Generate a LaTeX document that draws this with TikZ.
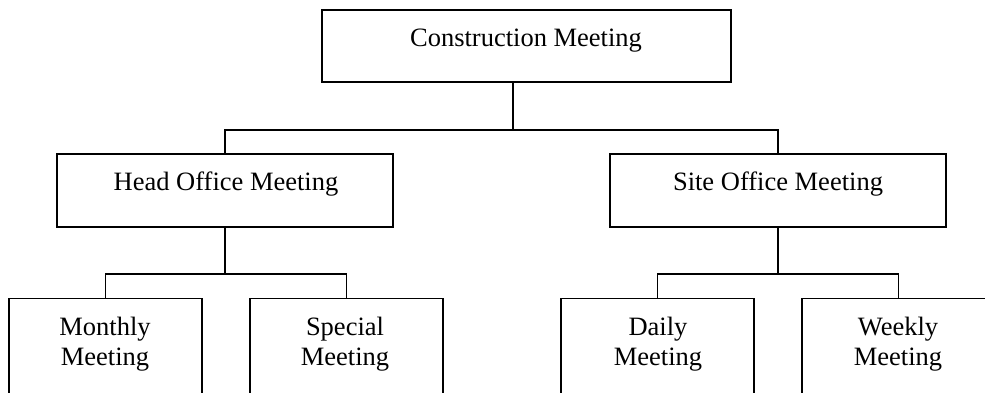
\documentclass[tikz,border=0pt]{standalone}
\usepackage{fontspec}
\setmainfont{Liberation Serif}
\begin{document}
\begin{tikzpicture}[x=1pt,y=-1pt,
  box/.style={draw, line width=1.3pt, rectangle, inner sep=0pt, minimum height=73pt},
  leaf/.style={box, minimum width=193pt, minimum height=130pt, anchor=north},
  lbl/.style={font=\fontsize{26.5}{30}\selectfont, inner sep=0pt, anchor=base, align=center},
  wire/.style={line width=1.3pt}]
\clip (0,0) rectangle (985,392);
\fill[white] (0,0) rectangle (985,392);

% boxes
\node[box, minimum width=409pt, minimum height=72pt] (cm) at (526.5,46) {};
\node[box, minimum width=336pt] (ho) at (225,190.5) {};
\node[box, minimum width=336pt] (so) at (778,190.5) {};
\node[leaf] (mo) at (105.5,298) {};
\node[leaf] (sp) at (346.5,298) {};
\node[leaf] (da) at (657.5,298) {};
\node[leaf] (we) at (898.5,298) {};

% labels (two-line labels sit on the baseline of their last line)
\node[lbl] (tcm) at (526,46) {Construction Meeting};
\node[lbl] (tho) at (226,190) {Head Office Meeting};
\node[lbl] (tso) at (778,190) {Site Office Meeting};
\node[lbl] (tmo) at (105,365) {Monthly\\Meeting};
\node[lbl] (tsp) at (345,365) {Special\\Meeting};
\node[lbl] (tda) at (658,365) {Daily\\Meeting};
\node[lbl] (twe) at (898,365) {Weekly\\Meeting};

% junctions
\coordinate (j1) at (513,130);
\coordinate (j2) at (225,274);
\coordinate (j3) at (778,274);

% connectors
\draw[wire] (cm.south -| j1) -- (j1);
\draw[wire] (ho.north) |- (j1) -| (so.north);
\draw[wire] (ho.south) -- (j2);
\draw[wire] (mo.north) |- (j2) -| (sp.north);
\draw[wire] (so.south) -- (j3);
\draw[wire] (da.north) |- (j3) -| (we.north);
\end{tikzpicture}
\end{document}
